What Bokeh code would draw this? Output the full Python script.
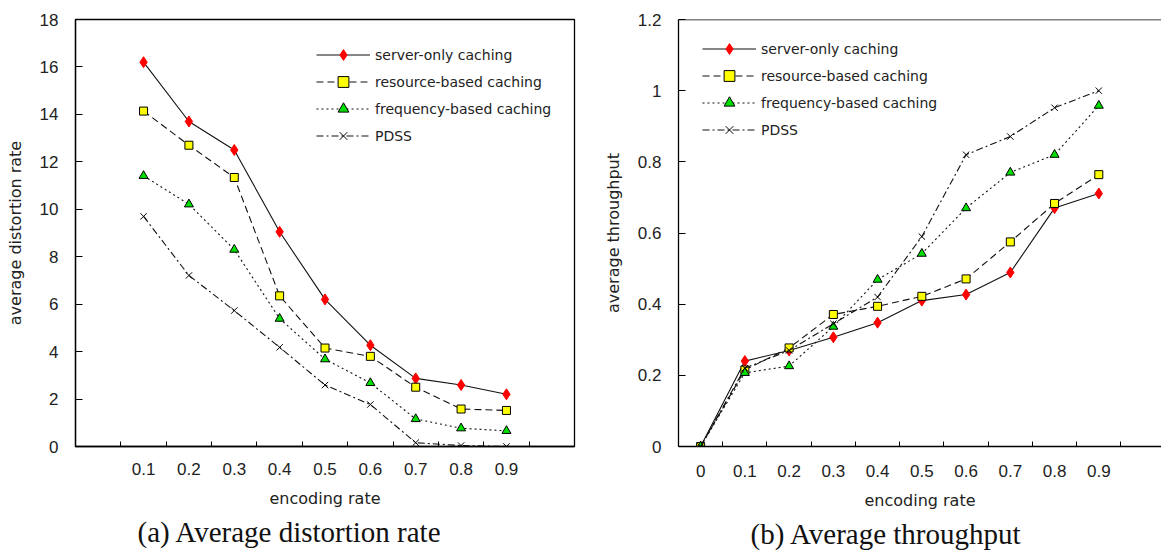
from bokeh.plotting import figure
from bokeh.layouts import row
from bokeh.models import FixedTicker, Legend, LegendItem, Span, Range1d, Title
from bokeh.embed import file_html
from bokeh.resources import INLINE

# ---------------- data ----------------
series_names = ["server-only caching", "resource-based caching",
                "frequency-based caching", "PDSS"]

# (a) Average distortion rate
rates_a = [0.1, 0.2, 0.3, 0.4, 0.5, 0.6, 0.7, 0.8, 0.9]
server_a = [16.2, 13.7, 12.5, 9.05, 6.2, 4.27, 2.87, 2.59, 2.2]
resource_a = [14.14, 12.7, 11.34, 6.35, 4.15, 3.8, 2.5, 1.58, 1.52]
frequency_a = [11.41, 10.21, 8.3, 5.39, 3.68, 2.68, 1.16, 0.77, 0.66]
pdss_a = [9.7, 7.21, 5.73, 4.18, 2.59, 1.77, 0.16, 0.04, 0.0]

# (b) Average throughput
rates_b = [0.0, 0.1, 0.2, 0.3, 0.4, 0.5, 0.6, 0.7, 0.8, 0.9]
server_b = [0.0, 0.24, 0.27, 0.307, 0.348, 0.41, 0.427, 0.489, 0.67, 0.711]
resource_b = [0.0, 0.215, 0.277, 0.371, 0.394, 0.422, 0.471, 0.575, 0.683, 0.764]
frequency_b = [0.0, 0.207, 0.226, 0.337, 0.469, 0.542, 0.67, 0.77, 0.82, 0.958]
pdss_b = [0.0, 0.22, 0.27, 0.345, 0.42, 0.59, 0.82, 0.871, 0.952, 1.0]

x_ticks_a = [0.1, 0.2, 0.3, 0.4, 0.5, 0.6, 0.7, 0.8, 0.9]
x_ticks_b = [0.0, 0.1, 0.2, 0.3, 0.4, 0.5, 0.6, 0.7, 0.8, 0.9]
x_minor = [0.05, 0.15, 0.25, 0.35, 0.45, 0.55, 0.65, 0.75, 0.85, 0.95]
y_ticks_a = [0, 2, 4, 6, 8, 10, 12, 14, 16, 18]
y_ticks_b = [0.0, 0.2, 0.4, 0.6, 0.8, 1.0, 1.2]
y_labels_b = ["0", "0.2", "0.4", "0.6", "0.8", "1", "1.2"]

caption_a = "(a) Average distortion rate"
caption_b = "(b) Average throughput"

styles = [
    dict(dash="solid", marker="diamond", size=11, fill="#ff0000", line="#ff0000"),
    dict(dash="7 4", marker="square", size=8, fill="#ffff00", line="#000000"),
    dict(dash="2 3", marker="triangle", size=9, fill="#00e000", line="#000000"),
    dict(dash="7 3 2 3", marker="x", size=9, fill="#000000", line="#000000"),
]

TICK_FONT = "Liberation Sans"
LABEL_FONT = "DejaVu Sans"
H = 554


def make_fig(width, bl, br, bt, bb, xr, yr, lab_standoff):
    p = figure(width=width, height=H, x_range=Range1d(*xr), y_range=Range1d(*yr),
               output_backend="svg", toolbar_location=None,
               min_border_left=bl, min_border_right=br, min_border_top=bt,
               min_border_bottom=bb)
    p.grid.visible = False
    p.background_fill_color = "white"
    p.border_fill_color = "white"
    for ax in (p.xaxis, p.yaxis):
        ax.axis_line_color = "black"
        ax.axis_line_width = 1.3
        ax.major_label_text_font = TICK_FONT
        ax.major_label_text_font_size = "17px"
        ax.major_label_text_color = "#222222"
        ax.axis_label_text_font = LABEL_FONT
        ax.axis_label_text_font_size = "16px"
        ax.axis_label_text_font_style = "normal"
        ax.axis_label_text_color = "#222222"
    p.xaxis.major_tick_line_color = None
    p.xaxis.major_tick_out = 0
    p.xaxis.major_tick_in = 0
    p.xaxis.minor_tick_line_color = "black"
    p.xaxis.minor_tick_in = 5
    p.xaxis.minor_tick_out = 0
    p.xaxis.major_label_standoff = lab_standoff
    p.xaxis.axis_label_standoff = 11
    p.xaxis.axis_label = "encoding rate"
    p.yaxis.major_tick_line_color = "black"
    p.yaxis.major_tick_in = 7
    p.yaxis.major_tick_out = 0
    p.yaxis.minor_tick_line_color = None
    p.yaxis.major_label_standoff = 17
    p.yaxis.axis_label_standoff = 12
    return p


def add_series(p, xs, ys_list, legend_loc):
    items = []
    for name, ys, st in zip(series_names, ys_list, styles):
        lr = p.line(xs, ys, line_color="#111111", line_width=1.1, line_dash=st["dash"])
        sr = p.scatter(xs, ys, marker=st["marker"], size=st["size"],
                       fill_color=st["fill"], line_color=st["line"], line_width=1)
        items.append(LegendItem(label=name, renderers=[lr, sr]))
    legend = Legend(items=items, location=legend_loc, glyph_width=54, glyph_height=27,
                    label_height=27, spacing=0, padding=0, margin=0, label_standoff=5,
                    border_line_color=None, background_fill_alpha=0,
                    label_text_font=LABEL_FONT, label_text_font_size="14px",
                    label_text_color="#222222")
    p.add_layout(legend)


def add_caption(p, text, offset):
    p.add_layout(Title(text=text, align="left", offset=offset, standoff=7,
                       text_font="Liberation Serif", text_font_size="29px",
                       text_font_style="normal", text_color="#111111"), "below")


# ---------------- (a) ----------------
p1 = make_fig(600, 75, 26, 19, H - 19 - 429, (-0.05, 1.05), (0, 18), 16)
p1.outline_line_color = "black"
p1.outline_line_width = 1.3
p1.xaxis.ticker = FixedTicker(ticks=x_ticks_a, minor_ticks=x_minor)
p1.yaxis.ticker = FixedTicker(ticks=y_ticks_a)
p1.yaxis.axis_label = "average distortion rate"
add_series(p1, rates_a, [server_a, resource_a, frequency_a, pdss_a], (241, 297))
add_caption(p1, caption_a, 62)

# ---------------- (b) ----------------
p2 = make_fig(561, 73, 0, 18, H - 18 - 428, (-0.05, 1.0417), (0, 1.2), 18)
p2.outline_line_color = None
p2.add_layout(Span(location=1.2, dimension="width", line_color="black", line_width=1.3))
p2.xaxis.ticker = FixedTicker(ticks=x_ticks_b, minor_ticks=x_minor)
p2.yaxis.ticker = FixedTicker(ticks=y_ticks_b)
p2.yaxis.major_label_overrides = {v: s for v, s in zip(y_ticks_b, y_labels_b)}
p2.yaxis.axis_label = "average throughput"
add_series(p2, rates_b, [server_b, resource_b, frequency_b, pdss_b], (24, 303))
add_caption(p2, caption_b, 72)

layout = row(p1, p2)
open("out.html", "w").write(file_html(layout, INLINE))
